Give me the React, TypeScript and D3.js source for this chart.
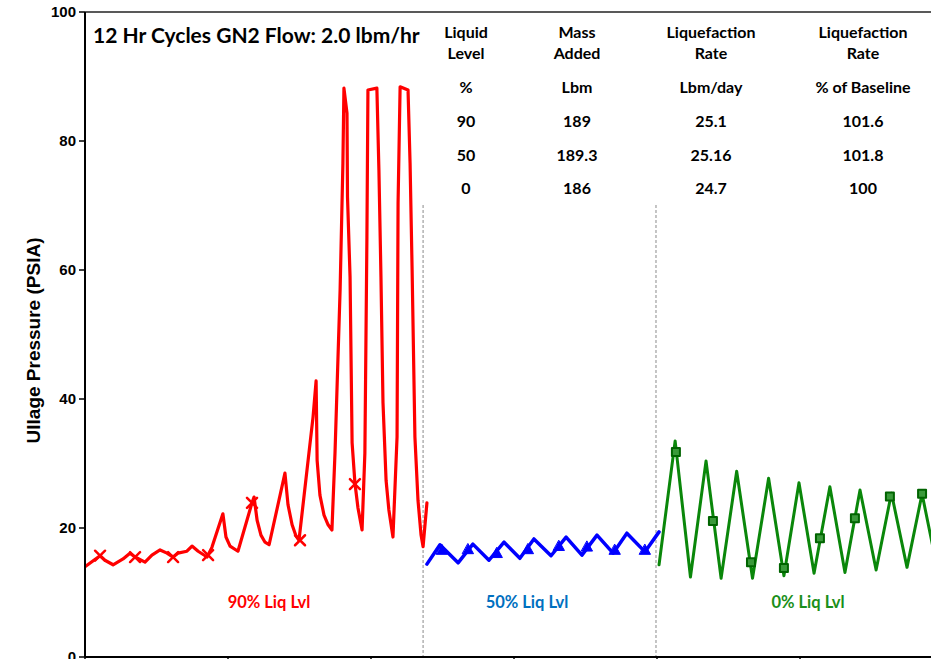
import React from "react";
import * as d3 from "d3";

// Ullage pressure (PSIA) vs. elapsed time (hours), 12 hr fill cycles
const red90: [number, number][] = [
  [0.0, 14.0], [5.9, 15.7], [7.8, 15.0], [11.0, 14.3], [14.9, 15.2], [17.6, 16.1],
  [19.6, 15.5], [23.5, 14.7], [26.2, 15.8], [29.4, 16.6], [32.1, 16.1], [34.5, 15.5],
  [36.4, 16.1], [39.9, 16.4], [41.9, 17.2], [44.3, 16.4], [47.8, 15.5], [49.7, 17.0],
  [54.0, 22.2], [55.2, 18.6], [56.8, 17.2], [59.9, 16.4], [65.4, 23.9], [66.2, 24.8],
  [67.4, 21.2], [68.9, 18.9], [70.5, 17.8], [72.1, 17.4], [78.3, 28.5], [79.5, 23.6],
  [81.1, 20.5], [82.6, 18.8], [83.8, 18.1], [89.3, 37.2], [90.5, 42.8], [90.9, 30.5],
  [92.0, 25.1], [93.6, 22.0], [95.2, 20.5], [96.7, 19.7], [97.9, 31.6], [99.9, 56.9],
  [101.0, 76.6], [101.4, 88.2], [102.6, 84.3], [102.8, 71.3], [103.8, 58.9], [104.6, 33.2],
  [105.7, 27.0], [106.9, 23.1], [108.5, 19.7], [109.6, 31.6], [110.4, 65.1], [110.8, 87.9],
  [114.3, 88.2], [115.1, 75.5], [115.9, 58.9], [116.7, 39.4], [117.9, 27.4], [119.0, 22.8],
  [120.6, 18.6], [122.2, 34.1], [122.6, 70.4], [123.4, 88.4], [126.5, 87.9], [127.3, 76.6],
  [128.1, 60.0], [129.2, 34.1], [130.4, 24.3], [131.6, 18.9], [132.4, 17.1], [133.9, 23.9],
];
const red90Marks: [number, number][] = [
  [5.9, 15.7], [19.6, 15.5], [34.5, 15.5], [48.2, 15.8], [65.4, 23.9], [84.2, 18.1], [105.7, 26.8],
];

const blue50: [number, number][] = [
  [133.9, 14.4], [139.0, 17.4], [146.1, 14.6], [151.9, 17.5], [158.2, 15.0], [164.1, 17.8],
  [170.3, 15.3], [175.8, 18.3], [182.5, 15.7], [188.4, 18.6], [194.6, 15.8], [200.5, 18.9],
  [206.8, 16.1], [212.2, 19.2], [219.3, 16.3], [224.8, 19.4],
];
const blue50Marks: [number, number][] = [
  [139.8, 16.6], [150.0, 16.7], [161.3, 16.1], [173.5, 16.7], [185.6, 17.2], [196.6, 17.1],
  [207.5, 16.6], [219.3, 16.6],
];

const green0: [number, number][] = [
  [224.8, 14.3], [231.1, 33.5], [237.1, 12.4], [243.2, 30.4], [249.1, 12.2], [255.2, 28.8],
  [261.4, 12.2], [267.7, 27.7], [273.7, 12.6], [279.6, 27.0], [285.5, 13.0], [291.7, 26.4],
  [297.6, 13.1], [303.5, 25.9], [309.8, 13.5], [315.8, 25.4], [321.9, 13.9], [327.8, 25.3],
  [333.6, 14.0],
];
const green0Marks: [number, number][] = [
  [231.4, 31.8], [245.9, 21.1], [260.8, 14.7], [273.7, 13.8], [287.8, 18.4], [301.5, 21.5],
  [315.2, 24.9], [327.8, 25.3],
];

// Boundaries between the liquid-level test segments
const segmentBounds = [132.4, 223.6];

const xTicks = [0, 56, 112, 168, 224, 280];
const yTicks = [0, 20, 40, 60, 80, 100];

const title = "12 Hr Cycles GN2 Flow: 2.0 lbm/hr";
const tableHeaders = [
  ["Liquid", "Level", "%"],
  ["Mass", "Added", "Lbm"],
  ["Liquefaction", "Rate", "Lbm/day"],
  ["Liquefaction", "Rate", "% of Baseline"],
];
const liquidLevel = ["90", "50", "0"];
const massAdded = ["189", "189.3", "186"];
const liqRate = ["25.1", "25.16", "24.7"];
const pctBaseline = ["101.6", "101.8", "100"];

const W = 931;
const H = 659;
const left = 85;
const top = 12;
const bottom = 657;

const x = d3.scaleLinear().domain([0, 340]).range([left, left + 340 * 2.5536]);
const y = d3.scaleLinear().domain([0, 100]).range([bottom, top]);
const line = d3.line<[number, number]>().x((d) => x(d[0])).y((d) => y(d[1]));

const RED = "#ff0000";
const BLUE = "#0000ff";
const GREEN = "#0a870a";

const calibri = "Lato, 'Open Sans', sans-serif";
const arial = "'Liberation Sans', Arial, sans-serif";

export default function App() {
  const colX = [466, 577, 711, 863];
  const headY = [38, 59, 93];
  const rowY = [127, 161, 194];
  const rows = liquidLevel.map((v, i) => [v, massAdded[i], liqRate[i], pctBaseline[i]]);

  return (
    <svg
      width={W}
      height={H}
      style={{ position: "absolute", left: 0, top: 0, background: "#fff" }}
    >
      <defs>
        <clipPath id="plot">
          <rect x={left} y={top} width={W - left} height={bottom - top} />
        </clipPath>
      </defs>
      <rect x={0} y={0} width={W} height={H} fill="#fff" />

      {/* segment dividers */}
      {segmentBounds.map((b, i) => (
        <line
          key={i}
          x1={x(b)}
          x2={x(b)}
          y1={205}
          y2={bottom}
          stroke="#a6a6a6"
          strokeWidth={1.3}
          strokeDasharray="3,2"
        />
      ))}

      <g clipPath="url(#plot)" fill="none" strokeLinejoin="round" strokeLinecap="round">
        <path d={line(red90) || ""} stroke={RED} strokeWidth={3.2} />
        <path d={line(blue50) || ""} stroke={BLUE} strokeWidth={3.5} />
        <path d={line(green0) || ""} stroke={GREEN} strokeWidth={3} />
        {red90Marks.map((m, i) => {
          const cx = x(m[0]);
          const cy = y(m[1]);
          const s = 5;
          return (
            <path
              key={"r" + i}
              d={`M${cx - s},${cy - s}L${cx + s},${cy + s}M${cx - s},${cy + s}L${cx + s},${cy - s}`}
              stroke={RED}
              strokeWidth={2.5}
            />
          );
        })}
        {blue50Marks.map((m, i) => {
          const cx = x(m[0]);
          const cy = y(m[1]);
          const s = 5.5;
          return (
            <path
              key={"b" + i}
              d={`M${cx},${cy - s}L${cx + s},${cy + s * 0.8}L${cx - s},${cy + s * 0.8}Z`}
              fill={BLUE}
              stroke={BLUE}
              strokeWidth={1}
            />
          );
        })}
        {green0Marks.map((m, i) => {
          const cx = x(m[0]);
          const cy = y(m[1]);
          const s = 4;
          return (
            <rect
              key={"g" + i}
              x={cx - s}
              y={cy - s}
              width={2 * s}
              height={2 * s}
              fill="#3a9a3a"
              stroke="#006400"
              strokeWidth={2}
            />
          );
        })}
      </g>

      {/* frame and axes */}
      <line x1={left} x2={W} y1={top} y2={top} stroke="#595959" strokeWidth={2} />
      <line x1={left} x2={left} y1={top} y2={bottom} stroke="#000" strokeWidth={2} />
      <line x1={left} x2={W} y1={bottom} y2={bottom} stroke="#000" strokeWidth={2} />
      {yTicks.map((t) => (
        <g key={t}>
          <line x1={left - 6} x2={left} y1={y(t)} y2={y(t)} stroke="#000" strokeWidth={1.5} />
          <text
            x={left - 9}
            y={y(t) + 5}
            textAnchor="end"
            fontFamily={arial}
            fontWeight="bold"
            fontSize={15}
            fill="#000"
          >
            {t}
          </text>
        </g>
      ))}
      {xTicks.map((t) => (
        <line key={t} x1={x(t)} x2={x(t)} y1={bottom} y2={bottom + 6} stroke="#000" strokeWidth={1.5} />
      ))}
      <text
        transform={`translate(40,${(top + bottom) / 2 + 6}) rotate(-90)`}
        textAnchor="middle"
        fontFamily={arial}
        fontWeight="bold"
        fontSize={19}
        fill="#000"
      >
        Ullage Pressure (PSIA)
      </text>

      {/* title and summary table */}
      <text x={93} y={43} fontFamily={calibri} fontWeight="bold" fontSize={21} fill="#000">
        {title}
      </text>
      {tableHeaders.map((h, c) =>
        h.map((s, r) => (
          <text
            key={c + "-" + r}
            x={colX[c]}
            y={headY[r]}
            textAnchor="middle"
            fontFamily={calibri}
            fontWeight="bold"
            fontSize={16}
            fill="#000"
          >
            {s}
          </text>
        ))
      )}
      {rows.map((row, r) =>
        row.map((s, c) => (
          <text
            key={"v" + r + "-" + c}
            x={colX[c]}
            y={rowY[r]}
            textAnchor="middle"
            fontFamily={calibri}
            fontWeight="bold"
            fontSize={16}
            fill="#000"
          >
            {s}
          </text>
        ))
      )}

      {/* segment labels */}
      <text x={269} y={608} textAnchor="middle" fontFamily={calibri} fontWeight="bold" fontSize={16.5} fill={RED}>
        90% Liq Lvl
      </text>
      <text x={527} y={608} textAnchor="middle" fontFamily={calibri} fontWeight="bold" fontSize={16.5} fill="#0070c0">
        50% Liq Lvl
      </text>
      <text x={808} y={608} textAnchor="middle" fontFamily={calibri} fontWeight="bold" fontSize={16.5} fill="#1a8f1a">
        0% Liq Lvl
      </text>
    </svg>
  );
}
